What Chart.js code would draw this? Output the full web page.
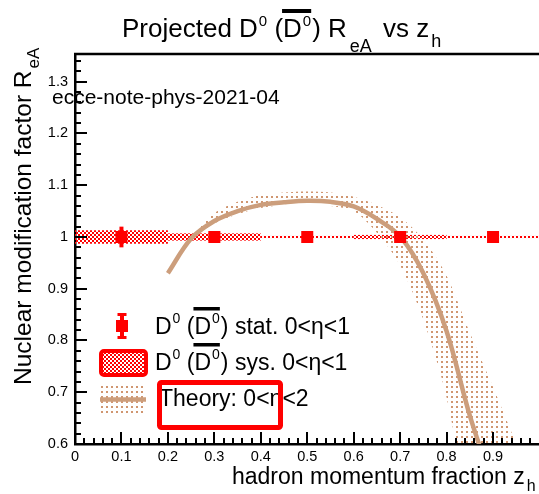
<!DOCTYPE html>
<html><head><meta charset="utf-8">
<script src="https://cdn.jsdelivr.net/npm/chart.js@4/dist/chart.umd.min.js"></script>
<style>
html,body{margin:0;padding:0;overflow:hidden;background:#fff;width:539px;height:494px}
#wrap{width:548px;height:494px;position:relative}
</style></head>
<body><div id="wrap"><canvas id="c" width="548" height="494"></canvas></div>
<script>
// ---------------- data ----------------
const zPoints   = [0.1, 0.3, 0.5, 0.7, 0.9];
const raValues  = [1.0, 1.0, 1.0, 1.0, 1.0];
const statErr   = [0.02, 0.004, 0.004, 0.004, 0.004];
const sysErr    = [0.013, 0.007, 0.002, 0.004, 0.002];
const binHalf   = [0.1, 0.1, 0.1, 0.1, 0.1];

const theoryZ = [0.2, 0.25, 0.3, 0.35, 0.4, 0.45, 0.5, 0.55, 0.6, 0.65, 0.7, 0.75, 0.8, 0.85, 0.9];
const theoryR = [0.930, 0.997, 1.031, 1.050, 1.062, 1.067, 1.070, 1.068, 1.059, 1.035, 1.001, 0.930, 0.818, 0.655, 0.52];

const bandZ     = [0.25, 0.3, 0.35, 0.4, 0.45, 0.5, 0.55, 0.6, 0.65, 0.7, 0.75, 0.8, 0.85, 0.9, 0.95];
const bandUpper = [1.0, 1.046, 1.068, 1.081, 1.086, 1.088, 1.086, 1.078, 1.062, 1.038, 0.995, 0.925, 0.815, 0.71, 0.60];
const bandLower = [0.996, 1.026, 1.044, 1.056, 1.062, 1.063, 1.060, 1.050, 1.008, 0.945, 0.84, 0.69, 0.45, 0.25, 0.1];

const xTickVals   = [0, 0.1, 0.2, 0.3, 0.4, 0.5, 0.6, 0.7, 0.8, 0.9];
const xTickLabels = ['0', '0.1', '0.2', '0.3', '0.4', '0.5', '0.6', '0.7', '0.8', '0.9'];
const yTickVals   = [0.6, 0.7, 0.8, 0.9, 1.0, 1.1, 1.2, 1.3];
const yTickLabels = ['0.6', '0.7', '0.8', '0.9', '1', '1.1', '1.2', '1.3'];

const X_MIN = 0, X_MAX = 1, Y_MIN = 0.6, Y_MAX = 1.3536;

// ---------------- styles ----------------
const RED = 'rgb(255,0,0)';
const TAN = 'rgb(204,158,124)';
const DOT = 'rgb(208,150,112)';
const FONT = s => `${s}px "Liberation Sans", Arial, Helvetica, sans-serif`;

function makePattern(kind) {
  const c = document.createElement('canvas');
  const g = c.getContext('2d');
  if (kind === 'checker') {
    c.width = 4; c.height = 4;
    g.fillStyle = RED;
    g.fillRect(0, 0, 2, 2); g.fillRect(2, 2, 2, 2);
  } else {
    c.width = 5; c.height = 5;
    g.fillStyle = DOT;
    g.fillRect(1, 1, 2, 2);
  }
  return document.getElementById('c').getContext('2d').createPattern(c, 'repeat');
}
const checker = makePattern('checker');
const dots = makePattern('dots');

function drawRich(ctx, pieces, x, y) {
  let cx = x, ovX = null;
  for (const p of pieces) {
    cx += (p.gap || 0);
    ctx.font = FONT(p.s);
    const w = ctx.measureText(p.t).width;
    ctx.fillText(p.t, cx, y + (p.dy || 0));
    if (p.ovStart) ovX = cx;
    if (p.ovEnd && ovX !== null) {
      ctx.fillRect(ovX - 1, y - p.ovY, cx + w - ovX + 1, p.ovT);
      ovX = null;
    }
    cx += w;
  }
  return cx;
}

// ---------------- plugins ----------------
const sysPlugin = {
  id: 'sys',
  beforeDatasetsDraw(chart) {
    const {ctx, chartArea: a, scales: {x, y}} = chart;
    ctx.save();
    ctx.beginPath(); ctx.rect(a.left, a.top, a.right - a.left, a.bottom - a.top); ctx.clip();
    ctx.fillStyle = checker;
    zPoints.forEach((z, i) => {
      const x0 = x.getPixelForValue(z - binHalf[i]), x1 = x.getPixelForValue(z + binHalf[i]);
      const y0 = y.getPixelForValue(raValues[i] + sysErr[i]), y1 = y.getPixelForValue(raValues[i] - sysErr[i]);
      ctx.fillRect(x0, y0, x1 - x0, y1 - y0);
    });
    ctx.restore();
  }
};

const errPlugin = {
  id: 'err',
  afterDatasetsDraw(chart) {
    const {ctx, scales: {x, y}} = chart;
    ctx.save();
    ctx.strokeStyle = RED; ctx.lineWidth = 4;
    zPoints.forEach((z, i) => {
      const px = x.getPixelForValue(z);
      ctx.beginPath();
      ctx.moveTo(px, y.getPixelForValue(raValues[i] + statErr[i]));
      ctx.lineTo(px, y.getPixelForValue(raValues[i] - statErr[i]));
      ctx.stroke();
    });
    ctx.restore();
  }
};

const framePlugin = {
  id: 'frame',
  afterDraw(chart) {
    const {ctx, chartArea: a, scales: {x, y}} = chart;
    ctx.save();
    ctx.strokeStyle = '#000';
    // top frame line
    ctx.lineWidth = 2.5;
    ctx.beginPath(); ctx.moveTo(a.left - 1, a.top); ctx.lineTo(a.right, a.top); ctx.stroke();
    // inward ticks
    ctx.lineWidth = 2;
    ctx.beginPath();
    for (let i = 0; i <= 50; i++) {
      const v = X_MIN + i * 0.02;
      const px = Math.round(x.getPixelForValue(v));
      const len = (i % 5 === 0) ? 12 : 6;
      ctx.moveTo(px, a.bottom); ctx.lineTo(px, a.bottom - len);
    }
    for (let i = 0; ; i++) {
      const v = Y_MIN + i * 0.02;
      if (v > Y_MAX + 1e-9) break;
      const py = Math.round(y.getPixelForValue(v));
      const len = (i % 5 === 0) ? 12 : 6;
      ctx.moveTo(a.left, py); ctx.lineTo(a.left + len, py);
    }
    ctx.stroke();

    ctx.fillStyle = '#000';
    ctx.textBaseline = 'alphabetic';
    ctx.textAlign = 'left';
    // Title
    drawRich(ctx, [
      {t: 'Projected D', s: 26},
      {t: '0', s: 15, dy: -11, gap: 1},
      {t: ' (', s: 26},
      {t: 'D', s: 26, ovStart: true},
      {t: '0', s: 15, dy: -11, gap: 1, ovEnd: true, ovY: 28, ovT: 4},
      {t: ')', s: 26, gap: 1},
      {t: ' R', s: 26},
      {t: 'eA', s: 18, dy: 15, gap: 3},
      {t: ' vs z', s: 26, gap: 4},
      {t: 'h', s: 18, dy: 10, gap: 2}
    ], 122, 37);

    // note label
    ctx.font = FONT(21);
    ctx.fillText('ecce-note-phys-2021-04', 52, 104);

    // x title
    drawRich(ctx, [
      {t: 'hadron momentum fraction z', s: 23},
      {t: 'h', s: 16, dy: 7, gap: 2}
    ], 232, 484);

    // y title (rotated)
    ctx.save();
    ctx.translate(31, 385);
    ctx.rotate(-Math.PI / 2);
    drawRich(ctx, [
      {t: 'Nuclear modification factor R', s: 24.5},
      {t: 'eA', s: 17, dy: 8, gap: 2}
    ], 0, 0);
    ctx.restore();

    // ---------- legend ----------
    // row 1: stat marker
    ctx.fillStyle = RED;
    ctx.fillRect(116, 320, 12, 12);
    ctx.fillRect(120, 314, 4, 24);
    ctx.fillRect(117.5, 313, 9, 3);
    ctx.fillRect(117.5, 336, 9, 3);
    // row 2: sys box
    ctx.fillStyle = checker;
    ctx.fillRect(101, 351, 45, 24);
    ctx.strokeStyle = RED; ctx.lineWidth = 4;
    ctx.beginPath();
    if (ctx.roundRect) ctx.roundRect(101, 351, 45, 24, 3); else ctx.rect(101, 351, 45, 24);
    ctx.stroke();
    // row 3: theory band + line
    ctx.fillStyle = dots;
    ctx.fillRect(100, 386, 46, 27);
    ctx.strokeStyle = TAN; ctx.lineWidth = 4.5;
    ctx.beginPath(); ctx.moveTo(100, 399.5); ctx.lineTo(146, 399.5); ctx.stroke();

    ctx.fillStyle = '#000';
    const legPieces = (tail) => [
      {t: 'D', s: 23},
      {t: '0', s: 14, dy: -11, gap: 1},
      {t: ' (', s: 23},
      {t: 'D', s: 23, ovStart: true},
      {t: '0', s: 14, dy: -11, gap: 1, ovEnd: true, ovY: 27, ovT: 3.5},
      {t: ')' + tail, s: 23, gap: 1}
    ];
    drawRich(ctx, legPieces(' stat. 0<η<1'), 155, 334);
    drawRich(ctx, legPieces(' sys. 0<η<1'), 155, 370);
    ctx.font = FONT(23);
    ctx.fillText('Theory: 0<η<2', 159, 406);

    // red box around theory entry
    ctx.strokeStyle = RED; ctx.lineWidth = 5;
    ctx.beginPath();
    if (ctx.roundRect) ctx.roundRect(159.5, 382.5, 121, 45, 2); else ctx.rect(159.5, 382.5, 121, 45);
    ctx.stroke();
    ctx.restore();
  }
};

// ---------------- chart ----------------
const toXY = (xs, ys) => xs.map((v, i) => ({x: v, y: ys[i]}));

new Chart(document.getElementById('c'), {
  type: 'line',
  data: {
    datasets: [
      {
        label: 'band upper',
        data: toXY(bandZ, bandUpper),
        borderWidth: 0, pointRadius: 0, tension: 0.3,
        backgroundColor: dots, fill: '+1', clip: 0, order: 3
      },
      {
        label: 'band lower',
        data: toXY(bandZ, bandLower),
        borderWidth: 0, pointRadius: 0, tension: 0.3,
        fill: false, clip: 0, order: 3
      },
      {
        label: 'Theory: 0<η<2',
        data: toXY(theoryZ, theoryR),
        borderColor: TAN, borderWidth: 4.5, pointRadius: 0, tension: 0.35,
        fill: false, clip: 0, order: 2
      },
      {
        label: 'stat',
        data: toXY(zPoints, raValues),
        showLine: false,
        pointStyle: 'rect', pointRadius: 8.5, pointBorderWidth: 0,
        pointBackgroundColor: RED, pointBorderColor: RED,
        order: 1
      }
    ]
  },
  options: {
    responsive: false,
    animation: false,
    devicePixelRatio: 1,
    layout: {padding: {left: 0, top: 54, right: 5, bottom: 0}},
    plugins: {legend: {display: false}, tooltip: {enabled: false}, title: {display: false}},
    scales: {
      x: {
        type: 'linear', min: X_MIN, max: X_MAX,
        grid: {display: false, drawTicks: false},
        border: {display: true, color: '#000', width: 2.5},
        afterBuildTicks: s => { s.ticks = xTickVals.map(v => ({value: v})); },
        afterFit: s => { s.height = 50; },
        ticks: {
          padding: 4, color: '#000', font: {family: '"Liberation Sans", Arial', size: 14.5},
          maxRotation: 0, autoSkip: false,
          callback: (v) => { const i = xTickVals.findIndex(t => Math.abs(t - v) < 1e-9); return i >= 0 ? xTickLabels[i] : ''; }
        }
      },
      y: {
        type: 'linear', min: Y_MIN, max: Y_MAX,
        grid: {display: false, drawTicks: false},
        border: {display: true, color: '#000', width: 2.5},
        afterBuildTicks: s => { s.ticks = yTickVals.map(v => ({value: v})); },
        afterFit: s => { s.width = 75; },
        ticks: {
          padding: 7, color: '#000', font: {family: '"Liberation Sans", Arial', size: 14.5},
          autoSkip: false,
          callback: (v) => { const i = yTickVals.findIndex(t => Math.abs(t - v) < 1e-9); return i >= 0 ? yTickLabels[i] : ''; }
        }
      }
    }
  },
  plugins: [sysPlugin, errPlugin, framePlugin]
});
</script>
</body></html>
